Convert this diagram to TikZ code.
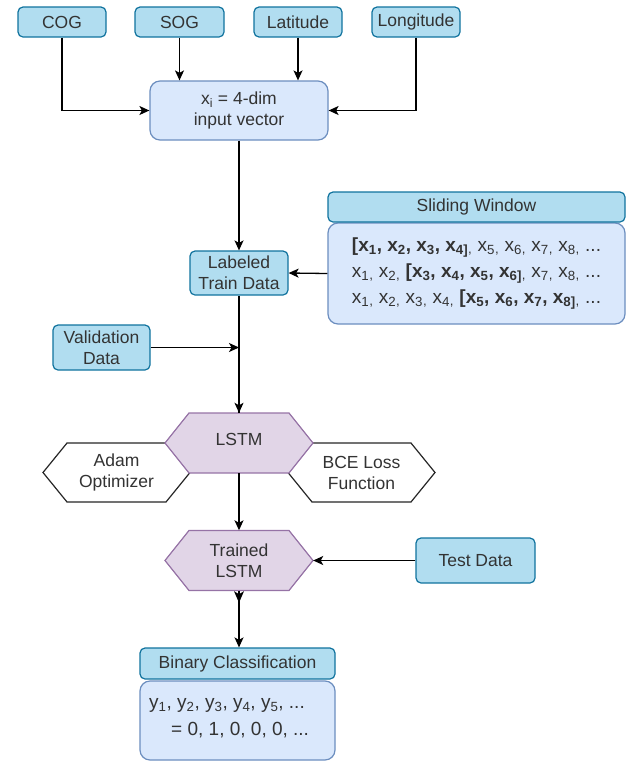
\documentclass[tikz,border=0pt]{standalone}
\usepackage{fontspec}
\setmainfont{Liberation Sans}
\usetikzlibrary{arrows.meta,calc}
\definecolor{hdrfill}{HTML}{B1DDF0}
\definecolor{hdrline}{HTML}{10739E}
\definecolor{bodyfill}{HTML}{DAE8FC}
\definecolor{bodyline}{HTML}{6C8EBF}
\definecolor{purfill}{HTML}{E1D5E7}
\definecolor{purline}{HTML}{9673A6}
\definecolor{txt}{HTML}{333333}
\newcommand\drawhex[6]{%
  \draw[#6] (#1-#3,#2) -- (#1-#3+#5,#2-#4) -- (#1+#3-#5,#2-#4) -- (#1+#3,#2)
    -- (#1+#3-#5,#2+#4) -- (#1-#3+#5,#2+#4) -- cycle;}
\newcommand\xs[1]{x\textsubscript{#1}}
\newcommand\ys[1]{y\textsubscript{#1}}
\begin{document}
\begin{tikzpicture}[x=1pt,y=-1pt,
  font=\fontsize{17.5}{21}\selectfont, text=txt,
  hdr/.style={draw=hdrline, fill=hdrfill, rounded corners=5pt, line width=1.2pt, align=center, inner sep=0pt},
  bodybox/.style={draw=bodyline, fill=bodyfill, rounded corners=10pt, line width=1.2pt, inner sep=0pt},
  hexlbl/.style={align=center, inner sep=0pt},
  hexpur/.style={draw=purline, fill=purfill, line width=1.2pt},
  hexwhite/.style={draw=black!85, fill=white, line width=1.2pt},
  arr/.style={-{Stealth[length=10pt,width=9pt,inset=2.5pt]}, line width=1.3pt, black},
]
\useasboundingbox (0,0) rectangle (628,761);

% inputs
\node[hdr, minimum width=88pt, minimum height=30pt] (cog) at (62,22) {COG};
\node[hdr, minimum width=89pt, minimum height=30pt] (sog) at (179.5,22) {SOG};
\node[hdr, minimum width=88pt, minimum height=30pt] (lat) at (298,22) {Latitude};
\node[hdr, minimum width=88pt, minimum height=30pt] (lon) at (416,22) {Longitude};

\node[bodybox, minimum width=178pt, minimum height=59pt, align=center] (inp) at (239,110.5)
  {\xs{i} = 4-dim\\input vector};

\node[hdr, minimum width=98pt, minimum height=44pt] (lab) at (239,273) {Labeled\\Train Data};

% sliding window
\node[bodybox, minimum width=297pt, minimum height=101pt, align=left,
  font=\fontsize{19}{26}\selectfont] (swb) at (476.5,273.5)
  {\textbf{[x\textsubscript{1}, x\textsubscript{2}, x\textsubscript{3}, x\textsubscript{4]}}\textsubscript{,} \xs{5}\textsubscript{,} \xs{6}\textsubscript{,} \xs{7}\textsubscript{,} \xs{8}\textsubscript{,} ...\\
   \xs{1}\textsubscript{,} \xs{2}\textsubscript{,} \textbf{[x\textsubscript{3}, x\textsubscript{4}, x\textsubscript{5}, x\textsubscript{6]}}\textsubscript{,} \xs{7}\textsubscript{,} \xs{8}\textsubscript{,} ...\\
   \xs{1}\textsubscript{,} \xs{2}\textsubscript{,} \xs{3}\textsubscript{,} \xs{4}\textsubscript{,} \textbf{[x\textsubscript{5}, x\textsubscript{6}, x\textsubscript{7}, x\textsubscript{8]}}\textsubscript{,} ...};
\node[hdr, minimum width=297pt, minimum height=30pt] (swh) at (476.5,207) {Sliding Window};

\node[hdr, minimum width=97pt, minimum height=45pt] (val) at (101.5,347.5) {Validation\\Data};

% hexagons
\drawhex{116.5}{472.5}{73.5}{29.5}{24}{hexwhite}
\drawhex{361.5}{472.5}{73.5}{29.5}{24}{hexwhite}
\drawhex{239}{443}{74}{30}{24}{hexpur}
\drawhex{239}{560.5}{74}{30}{24}{hexpur}
\node[hexlbl, minimum width=147pt, minimum height=59pt] (adam) at (116.5,472.5) {Adam\\Optimizer};
\node[hexlbl, minimum width=147pt, minimum height=59pt] (bce) at (361.5,472.5) {BCE Loss\\Function};
\node[hexlbl, minimum width=148pt, minimum height=60pt] (lstm) at (239,443) {\raisebox{8pt}{LSTM}};
\node[hexlbl, minimum width=148pt, minimum height=60pt] (tr) at (239,560.5) {Trained\\LSTM};

\node[hdr, minimum width=119pt, minimum height=45pt] (test) at (475.5,560.5) {Test Data};

% binary classification
\node[bodybox, minimum width=195pt, minimum height=79pt] (binb) at (237.5,720.5) {};
\node[align=left, anchor=west, inner sep=0pt, font=\fontsize{19}{27}\selectfont] (bint) at (149,718)
  {\ys{1}, \ys{2}, \ys{3}, \ys{4}, \ys{5}, ...\\\hspace{22pt}= 0, 1, 0, 0, 0, ...};
\node[hdr, minimum width=195pt, minimum height=31pt] (binh) at (237.5,663.5) {Binary Classification};

% connectors
\draw[arr] (cog.south) |- (inp.west);
\draw[arr] (sog.south) -- (sog.south |- inp.north);
\draw[arr] (lat.south) -- (lat.south |- inp.north);
\draw[arr] (lon.south) |- (inp.east);
\draw[arr] (inp.south) -- (lab.north);
\draw[arr] (swb.west) -- (lab.east);
\draw[line width=1.3pt] (lab.south) -- (lstm.north);
\coordinate (vj) at (val.east -| lab.south);
\draw[arr] (val.east) -- (vj);
\draw[arr] (vj) -- (lstm.north);
\draw[arr] (lstm.south) -- (tr.north);
\draw[arr] (test.west) -- (tr.east);
\draw[arr] (tr.south) -- (tr.south |- binh.north);
\fill[black] ($(tr.south)+(0,12)$) -- ($(tr.south)+(-5,0.5)$) -- ($(tr.south)+(0,3.5)$)
  -- ($(tr.south)+(5,0.5)$) -- cycle;
\end{tikzpicture}
\end{document}
